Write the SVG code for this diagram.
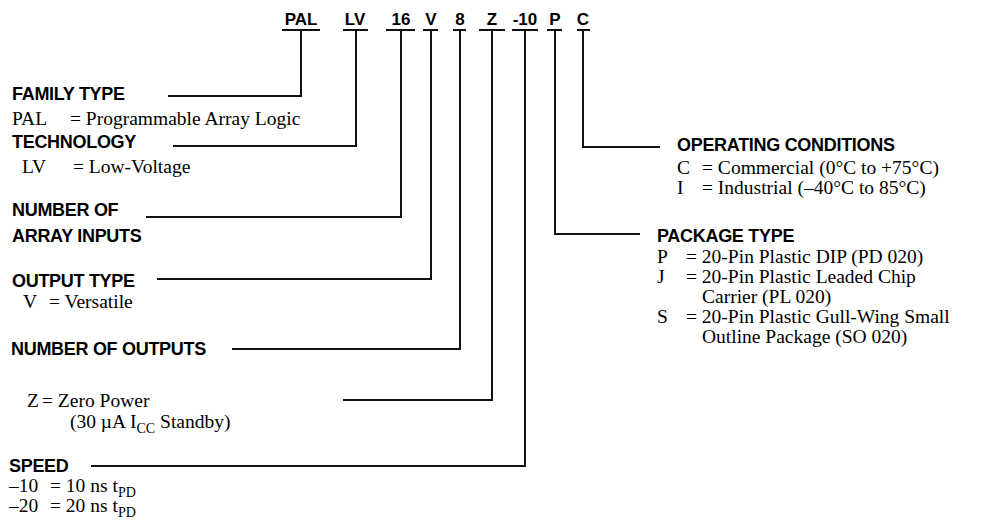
<svg xmlns="http://www.w3.org/2000/svg" width="985" height="524" viewBox="0 0 985 524">
<style>
.code{font-family:"Liberation Sans",Arial,sans-serif;font-weight:bold;font-size:17px;fill:#000}
.lbl{font-family:"Liberation Sans",Arial,sans-serif;font-weight:bold;font-size:18px;fill:#000;letter-spacing:-0.3px}
.t{font-family:"Liberation Serif","Times New Roman",serif;font-size:19.5px;fill:#000}
.sub{font-size:14px}
.ln{stroke:#111;stroke-width:2;fill:none}
</style>
<rect width="985" height="524" fill="#fff"/>
<g id="codes">
<text class="code" x="301" y="25" text-anchor="middle">PAL</text>
<text class="code" x="355" y="25" text-anchor="middle">LV</text>
<text class="code" x="401" y="25" text-anchor="middle">16</text>
<text class="code" x="431" y="25" text-anchor="middle">V</text>
<text class="code" x="460" y="25" text-anchor="middle">8</text>
<text class="code" x="492" y="25" text-anchor="middle">Z</text>
<text class="code" x="525" y="25" text-anchor="middle">-10</text>
<text class="code" x="555" y="25" text-anchor="middle">P</text>
<text class="code" x="583" y="25" text-anchor="middle">C</text>
</g>
<g id="connectors">
<path class="ln" d="M282,30H320M301,30V96H168"/>
<path class="ln" d="M343,30H368M356,30V146H173"/>
<path class="ln" d="M386,30H415M401,30V217H146"/>
<path class="ln" d="M423,30H438M431,30V279H157"/>
<path class="ln" d="M453,30H466M460,30V349H232"/>
<path class="ln" d="M479,30H505M492,30V400H343"/>
<path class="ln" d="M512,30H538M525,30V466H91"/>
<path class="ln" d="M547,30H562M555,30V234H640"/>
<path class="ln" d="M577,30H590M583,30V147H660"/>
</g>
<g id="family-type">
<text class="lbl" x="12" y="100">FAMILY TYPE</text>
<text class="t" x="12" y="125">PAL</text><text class="t" x="70" y="125">= Programmable Array Logic</text>
</g>
<g id="technology">
<text class="lbl" x="12" y="148">TECHNOLOGY</text>
<text class="t" x="22" y="173">LV</text><text class="t" x="73" y="173">= Low-Voltage</text>
</g>
<g id="array-inputs">
<text class="lbl" x="12" y="216">NUMBER OF</text>
<text class="lbl" x="12" y="242">ARRAY INPUTS</text>
</g>
<g id="output-type">
<text class="lbl" x="12" y="287">OUTPUT TYPE</text>
<text class="t" x="23" y="308">V</text><text class="t" x="49" y="308">= Versatile</text>
</g>
<g id="outputs">
<text class="lbl" x="11" y="355">NUMBER OF OUTPUTS</text>
</g>
<g id="power">
<text class="t" x="27" y="407">Z</text><text class="t" x="42" y="407">= Zero Power</text>
<text class="t" x="70" y="428">(30 µA I<tspan class="sub" dy="5">CC</tspan><tspan dy="-5"> Standby)</tspan></text>
</g>
<g id="speed">
<text class="lbl" x="9" y="472" letter-spacing="-0.8">SPEED</text>
<text class="t" x="9" y="492">–10</text><text class="t" x="50" y="492">= 10 ns t<tspan class="sub" dy="5">PD</tspan></text>
<text class="t" x="9" y="512">–20</text><text class="t" x="50" y="512">= 20 ns t<tspan class="sub" dy="5">PD</tspan></text>
</g>
<g id="operating-conditions">
<text class="lbl" x="677" y="151">OPERATING CONDITIONS</text>
<text class="t" x="677" y="174">C</text><text class="t" x="702" y="174">= Commercial (0°C to +75°C)</text>
<text class="t" x="677" y="194">I</text><text class="t" x="702" y="194">= Industrial (–40°C to 85°C)</text>
</g>
<g id="package-type">
<text class="lbl" x="657" y="242">PACKAGE TYPE</text>
<text class="t" x="657" y="263">P</text><text class="t" x="686" y="263">= 20-Pin Plastic DIP (PD 020)</text>
<text class="t" x="657" y="283">J</text><text class="t" x="686" y="283">= 20-Pin Plastic Leaded Chip</text>
<text class="t" x="702" y="303">Carrier (PL 020)</text>
<text class="t" x="657" y="323">S</text><text class="t" x="686" y="323">= 20-Pin Plastic Gull-Wing Small</text>
<text class="t" x="702" y="343">Outline Package (SO 020)</text>
</g>
</svg>
